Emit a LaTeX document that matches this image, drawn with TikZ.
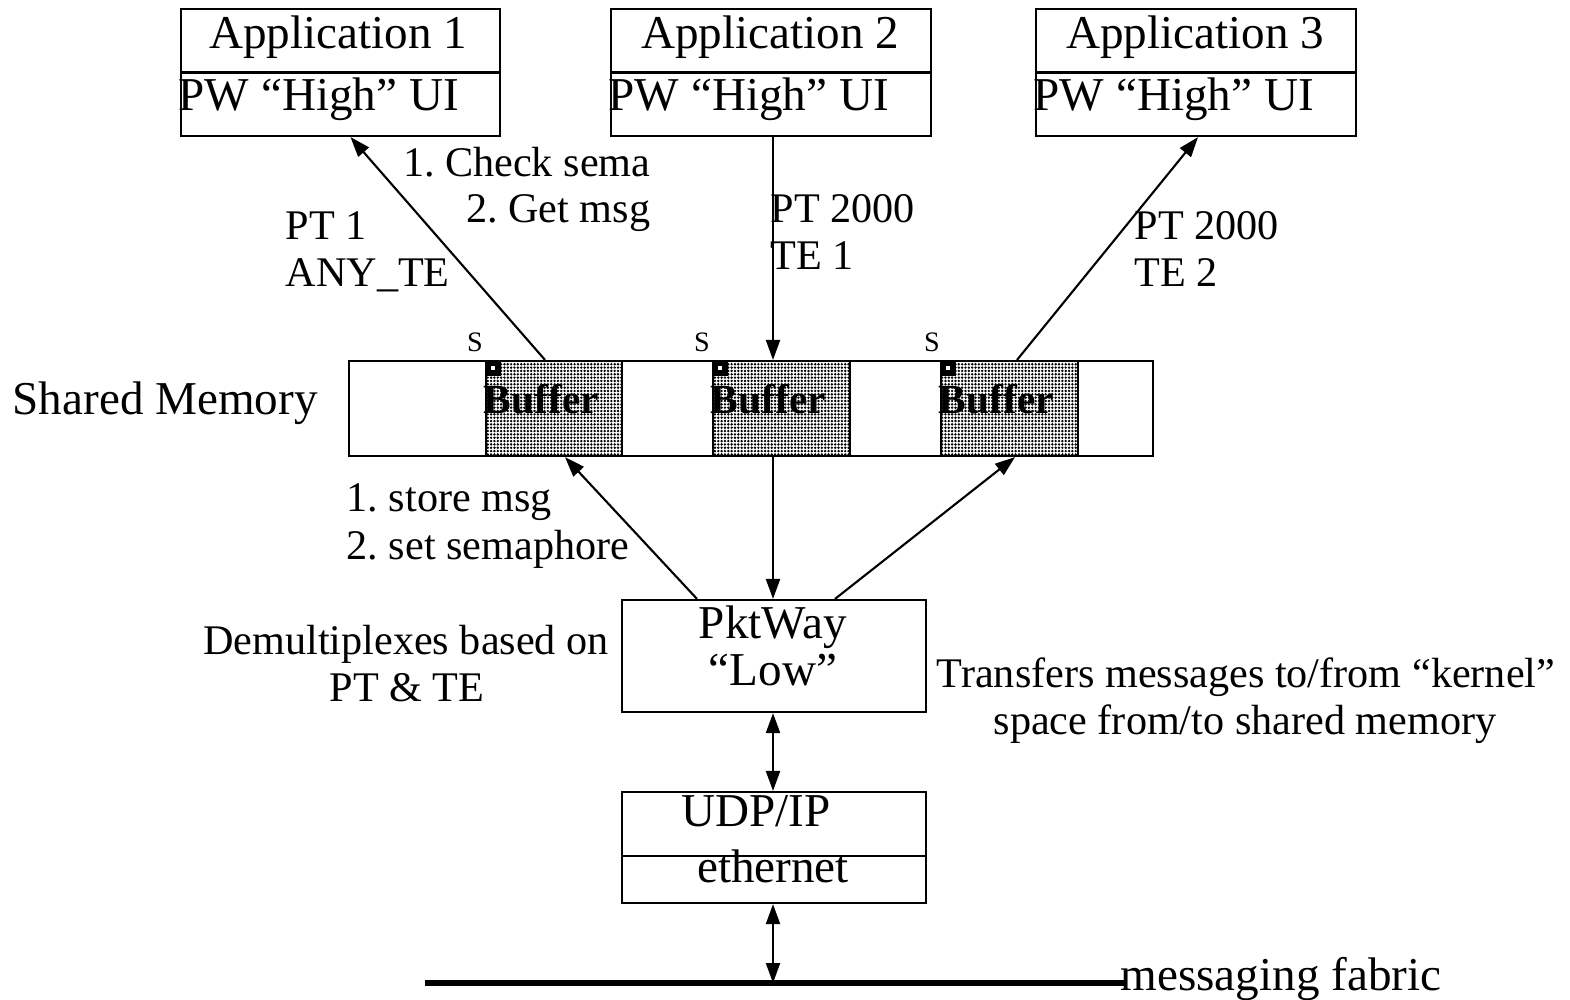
\documentclass[tikz,border=0pt]{standalone}
\usepackage{fontspec}
\setmainfont{Liberation Serif}
\usetikzlibrary{arrows.meta,calc,patterns.meta}

\tikzset{
  box/.style={draw, line width=0.6pt, inner sep=0pt},
  buf/.style={box, pattern={Dots[distance=0.95pt,radius=0.38pt]}},
  arr/.style={-{Triangle[length=0.2cm,width=0.14cm]}, line width=0.6pt},
  darr/.style={{Triangle[length=0.2cm,width=0.14cm]}-{Triangle[length=0.2cm,width=0.14cm]}, line width=0.6pt},
  txt/.style={inner sep=0pt, font=\fontsize{13.4}{13.4}\selectfont},
  lbl/.style={inner sep=0pt, font=\fontsize{12}{12}\selectfont},
  sm/.style={inner sep=0pt, font=\fontsize{8}{8}\selectfont},
  buftxt/.style={inner sep=0pt, font=\fontsize{11.8}{11.8}\selectfont\bfseries},
}

\begin{document}
\frenchspacing
\begin{tikzpicture}[x=0.01cm,y=-0.01cm]
  \useasboundingbox (0,0) rectangle (1570,999);

  % application boxes
  \node[box, minimum width=3.19cm, minimum height=1.27cm] (app1) at (340.5,72.5) {};
  \node[box, minimum width=3.2cm, minimum height=1.27cm] (app2) at (771,72.5) {};
  \node[box, minimum width=3.2cm, minimum height=1.27cm] (app3) at (1196,72.5) {};
  \draw[line width=0.6pt] (app1.west) -- (app1.east);
  \draw[line width=0.6pt] (app2.west) -- (app2.east);
  \draw[line width=0.6pt] (app3.west) -- (app3.east);
  \node[txt, anchor=base] (a1) at (338,48) {Application 1};
  \node[txt, anchor=base west] (ui1) at (178,110) {PW “High” UI};
  \node[txt, anchor=base] (a2) at (770,48) {Application 2};
  \node[txt, anchor=base west] (ui2) at (608,110) {PW “High” UI};
  \node[txt, anchor=base] (a3) at (1195,48) {Application 3};
  \node[txt, anchor=base west] (ui3) at (1033,110) {PW “High” UI};

  % shared memory with the three buffers
  \node[box, minimum width=8.04cm, minimum height=0.95cm] (mem) at (751,408.5) {};
  \node[buf, minimum width=1.36cm, minimum height=0.95cm] (buf1) at (554,408.5) {};
  \node[buf, minimum width=1.37cm, minimum height=0.95cm] (buf2) at (781.5,408.5) {};
  \node[buf, minimum width=1.37cm, minimum height=0.95cm] (buf3) at (1009.5,408.5) {};
  \foreach \b in {buf1,buf2,buf3} {
    \fill (\b.north west) rectangle ++(16,16);
    \fill[white] ($(\b.north west)+(6,6)$) rectangle ++(4,4);
  }
  \node[buftxt, anchor=base west] (bt1) at (483,413) {Buffer};
  \node[buftxt, anchor=base west] (bt2) at (710,413) {Buffer};
  \node[buftxt, anchor=base west] (bt3) at (938,413) {Buffer};
  \node[sm, anchor=base] (s1) at (475,351) {S};
  \node[sm, anchor=base] (s2) at (702,351) {S};
  \node[sm, anchor=base] (s3) at (932,351) {S};
  \node[txt, anchor=base west] (shm) at (12,414) {Shared Memory};

  % packet way and network stack
  \node[box, minimum width=3.04cm, minimum height=1.12cm] (pkt) at (774,656) {};
  \node[txt, anchor=base] (pk1) at (773,638) {PktWay};
  \node[txt, anchor=base] (pk2) at (773,685) {“Low”};
  \node[box, minimum width=3.04cm, minimum height=1.11cm] (udp) at (774,847.5) {};
  \draw[line width=0.6pt] ($(udp.west)+(0,8.5)$) -- ($(udp.east)+(0,8.5)$);
  \node[txt, anchor=base] (ud1) at (756,826) {UDP/IP};
  \node[txt, anchor=base] (ud2) at (773,882) {ethernet};

  % messaging fabric
  \coordinate (fabL) at (425,983);
  \coordinate (fabR) at (1125,983);
  \draw[line width=1.5pt] (fabL) -- (fabR);
  \node[txt, anchor=base west] (fab) at (1120,990) {messaging fabric};

  % connectors
  \coordinate (udpB) at ($(udp.south)+(-1,0)$);
  \draw[arr] ($(buf1.north)+(-9,0)$) -- ($(app1.south)+(10,0)$);
  \draw[arr] ($(app2.south)+(2,0)$) -- ($(buf2.north)+(-8.5,0)$);
  \draw[arr] ($(buf3.north)+(7.5,0)$) -- ($(app3.south)+(2,0)$);
  \draw[arr] ($(pkt.north)+(-77,0)$) -- ($(buf1.south)+(11,0)$);
  \draw[arr] ($(buf2.south)+(-8.5,0)$) -- ($(pkt.north)+(-1,0)$);
  \draw[arr] ($(pkt.north)+(61,0)$) -- ($(buf3.south)+(5.5,0)$);
  \draw[darr] ($(pkt.south)+(-1,0)$) -- ($(udp.north)+(-1,0)$);
  \draw[darr] (udpB) -- (udpB |- fabL);

  % labels on the connectors
  \node[lbl, anchor=base east] (chk1) at (651,176) {1. Check sema};
  \node[lbl, anchor=base east] (chk2) at (651,222) {2. Get msg};
  \node[lbl, anchor=base west] (pt1) at (285,239) {PT 1};
  \node[lbl, anchor=base west] (te0) at (285,286) {ANY\_TE};
  \node[lbl, anchor=base west] (pt2) at (770,222) {PT 2000};
  \node[lbl, anchor=base west] (te1) at (770,269) {TE 1};
  \node[lbl, anchor=base west] (pt3) at (1134,239) {PT 2000};
  \node[lbl, anchor=base west] (te2) at (1134,286) {TE 2};
  \node[lbl, anchor=base west] (st1) at (346,511) {1. store msg};
  \node[lbl, anchor=base west] (st2) at (346,559) {2. set semaphore};
  \node[lbl, anchor=base] (dm1) at (406,654) {Demultiplexes based on};
  \node[lbl, anchor=base] (dm2) at (407,701) {PT \& TE};
  \node[lbl, anchor=base] (tr1) at (1246,687) {Transfers messages to/from “kernel”};
  \node[lbl, anchor=base] (tr2) at (1245,734) {space from/to shared memory};
\end{tikzpicture}
\end{document}
